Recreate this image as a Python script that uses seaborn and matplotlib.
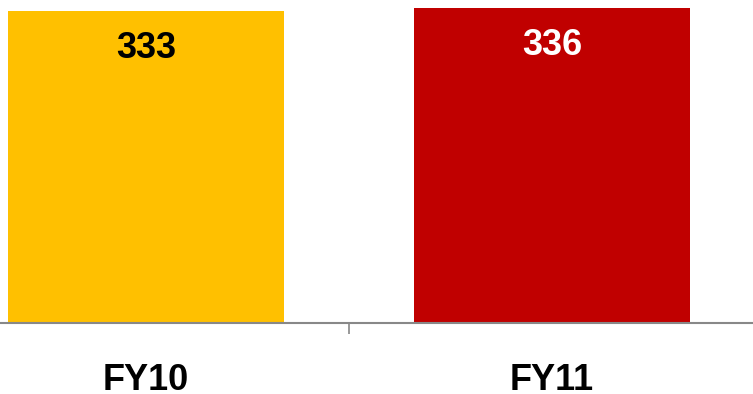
import matplotlib
matplotlib.use("Agg")
import matplotlib.pyplot as plt
from matplotlib.ticker import FixedLocator
import seaborn as sns
import pandas as pd

categories = ["FY10", "FY11"]
values = [333, 336]
bar_colors = ["#FFC000", "#C00000"]
label_colors = ["black", "white"]

sns.set_style("white")
plt.rcParams["font.family"] = ["Liberation Sans", "DejaVu Sans"]

df = pd.DataFrame({"year": categories, "value": values})

fig = plt.figure(figsize=(7.53, 3.94), dpi=100)
ax = fig.add_axes([-57 / 753, 71 / 394, 812 / 753, 323 / 394])

sns.barplot(data=df, x="year", y="value", hue="year", palette=bar_colors,
            width=0.68, legend=False, ax=ax, saturation=1, linewidth=0)

ax.set_xlim(-0.5, 1.5)
ax.set_ylim(0, 344.5)

for patch, v, c in zip(ax.patches, values, label_colors):
    cx = patch.get_x() + patch.get_width() / 2
    ax.annotate(f"{v}", xy=(cx, v), xytext=(0, -34), textcoords="offset points",
                ha="center", va="baseline", fontsize=26, fontweight="bold", color=c)

for s in ["top", "right", "left"]:
    ax.spines[s].set_visible(False)
ax.spines["bottom"].set_color("#888888")
ax.spines["bottom"].set_linewidth(1.5)

ax.set_yticks([])
ax.set_xlabel("")
ax.set_ylabel("")
ax.tick_params(axis="x", which="major", bottom=True, length=0, pad=29,
               labelcolor="black")
ax.xaxis.set_minor_locator(FixedLocator([0.5]))
ax.tick_params(axis="x", which="minor", bottom=True, length=8, width=1.2,
               color="#888888", direction="out")
for lbl in ax.get_xticklabels():
    lbl.set_fontsize(26)
    lbl.set_fontweight("bold")
    lbl.set_color("black")

fig.savefig("out.png", dpi=100)
